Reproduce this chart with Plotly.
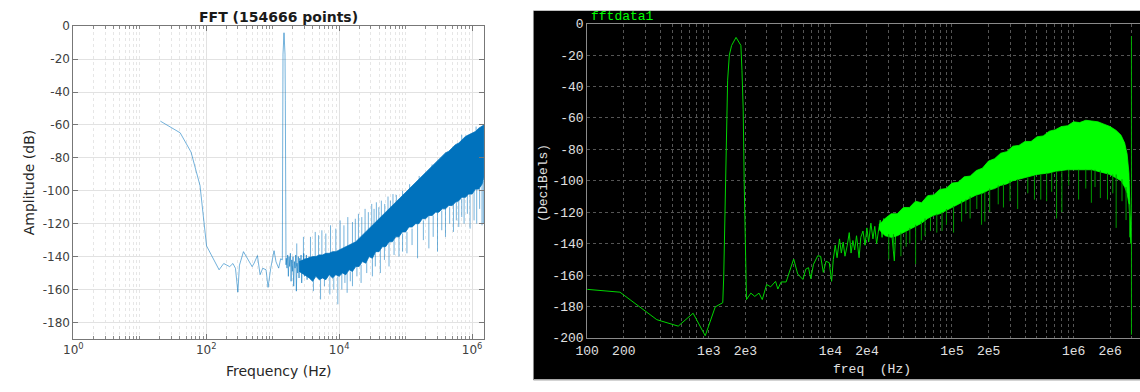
import plotly.graph_objects as go

# ---------------- LEFT PANEL DATA (MATLAB style) ----------------
left_low_hz = [20.4, 40.5, 59, 80.5, 101, 127, 156, 183, 225, 252, 275, 299, 316, 363, 422, 490, 525, 589,
               646, 708, 794, 851, 933, 1047, 1122, 1230, 1318, 1396, 1406, 1419, 1429, 1479, 1531, 1549, 1567, 1585]
left_low_db = [-57.7, -64.8, -76.5, -96.8, -133.5, -141.3, -148, -144.2, -146.1, -144.2, -147.1, -161.6, -145.2,
               -137, -141.3, -146.1, -144, -139.4, -151, -147.1, -148, -158.7, -147.1, -136.4, -143.2, -147, -141.3,
               -142, -100, -45, -17, -4, -17, -45, -100, -145]

left_noise_hz = [1600, 1640, 1680, 1720, 1760, 1800, 1845, 1890, 1930, 1980, 2020, 2070, 2120, 2170, 2220, 2270,
                 2320, 2380, 2430, 2490, 2550, 2610, 2670, 2730, 2800, 2860, 2930, 3000, 3070, 3140, 3210, 3290,
                 3370, 3450, 3530, 3600]
left_noise_db = [-141, -147, -139, -152, -140, -146, -138, -155, -142, -149, -140, -158, -143, -147, -139, -161,
                 -144, -150, -140, -153, -141, -148, -139, -156, -142, -150, -138, -152, -141, -147, -139, -154,
                 -141, -149, -140, -146]

left_band_hz = [2500, 3000, 3548, 3981, 4467, 5012, 5623, 6310, 7079, 7943, 8913, 10000, 11220, 12589, 14125,
                15849, 17783, 19953, 22387, 25119, 28184, 31623, 35481, 39811, 44668, 50119, 56234, 63096, 70795,
                79433, 89125, 100000, 112202, 125893, 141254, 158489, 177828, 199526, 223872, 251189, 281838,
                316228, 354813, 398107, 446684, 501187, 562341, 630957, 707946, 794328, 891251, 1000000, 1122018,
                1258925, 1412538, 1510000]
left_band_top_db = [-143, -142, -141, -140, -140, -139, -139, -138, -138, -137, -137, -136, -135, -134, -133, -132,
                    -131, -129, -127, -125, -123, -121, -119, -117, -115, -113, -111, -109, -107, -105, -103, -101,
                    -99, -97, -95, -93, -91, -89, -87, -85, -83, -81, -79, -77, -76, -74, -72, -71, -69, -67, -66,
                    -65, -64, -62, -61, -60]
left_band_bot_db = [-149, -151, -153, -155, -152, -154, -153, -154, -151, -153, -151, -152, -150, -151, -148, -149,
                    -146, -146, -143, -144, -140, -141, -137, -137, -134, -134, -131, -131, -128, -128, -125, -125,
                    -122, -122, -120, -120, -117, -117, -115, -115, -113, -113, -111, -111, -109, -109, -107, -106,
                    -104, -104, -102, -102, -99, -99, -96, -92]

left_up_spike_hz = [2300, 2900, 3700, 4365, 4900, 5495, 6300, 7413, 8913, 10351, 11800, 13490, 15849, 17500,
                    19498, 21900, 24547, 27500, 30903, 33500, 36308, 39500, 43152, 48500, 54325, 59000, 64565,
                    72444, 90000, 115000, 160000, 250000, 420000, 700000, 1150000]
left_up_spike_lo = [-146, -145, -141, -140, -140, -140, -139, -138, -138, -136, -135, -134, -132, -131, -130,
                    -128, -126, -124, -122, -121, -120, -119, -117, -115, -113, -111, -110, -108, -104, -99, -95,
                    -87, -80, -70, -64]
left_up_spike_hi = [-132, -128, -128, -125, -127, -124, -126, -121, -123, -118, -121, -116, -119, -117, -114,
                    -116, -111, -113, -108, -111, -107, -110, -106, -108, -103.5, -106, -102, -102.5, -100, -96,
                    -91, -84, -77, -66, -61]

left_dn_spike_hz = [4100, 5248, 6000, 7244, 8300, 9550, 10965, 12200, 13183, 14700, 15849, 18500, 21380, 26000,
                    31623, 35000, 41687, 48000, 56234, 67000, 79433, 90000, 104713, 125000, 151356, 185000,
                    223872, 260000, 301995, 350000, 398107, 460000, 524807, 580000, 630957, 700000, 758578,
                    850000, 933254, 1071519, 1174898, 1300000, 1412538, 1479108]
left_dn_spike_hi = [-152, -152, -152, -152, -152, -152, -150, -150, -150, -149, -148, -146, -145, -142, -140, -138,
                    -136, -133, -130, -129, -127, -126, -125, -123, -120, -118, -114, -115, -113, -112, -110, -110,
                    -108, -107, -106, -105, -104, -103, -102, -100, -99, -98, -95, -94]
left_dn_spike_lo = [-161, -166, -158, -163, -160, -169, -160, -156, -162, -155, -158, -152, -156, -150, -152, -146,
                    -150, -142, -146, -139, -140, -137, -138, -133, -141, -130, -135, -128, -137, -124, -128, -120,
                    -125, -118, -122, -116, -120, -114, -123, -118, -120, -111, -121, -120]

left_tick_vals = [1, 100, 10000, 1000000]
left_tick_text = ["10<sup>0</sup>", "10<sup>2</sup>", "10<sup>4</sup>", "10<sup>6</sup>"]
left_y_ticks = [0, -20, -40, -60, -80, -100, -120, -140, -160, -180]

# ---------------- RIGHT PANEL DATA (green on black) ----------------
right_line_hz = [100, 186, 374, 561, 743, 935, 1130, 1303, 1327, 1387, 1413, 1429, 1476, 1541, 1675, 1837, 1875,
                 1919, 1954, 1986, 2018, 2042, 2218, 2388, 2588, 2754, 2992, 3228, 3540, 3698, 3936, 4325, 4989,
                 5383, 5943, 6281, 6607, 6902, 7261, 7870, 8318, 8750, 9204, 9795, 10233, 10568, 10965, 11350,
                 11885, 12303, 12735, 13183, 13772, 14289, 14791, 15311, 15849, 16406, 17219, 17783, 18535, 19275,
                 19953, 20654, 21528, 22387, 23174, 23988, 24946, 25704, 26607, 27542, 28510, 29512, 30061, 30903,
                 31623, 33574, 34674]
right_line_db = [-169.1, -170.9, -188.4, -192.5, -184.3, -198.6, -180.3, -177.6, -161.3, -91.2, -54.5, -36, -20,
                 -13.9, -8.8, -13.9, -30, -54.5, -100, -129.8, -154, -175.6, -171.5, -173.6, -171.5, -175.6, -166,
                 -167.5, -164, -168.9, -164.4, -164.4, -149.8, -159.3, -162.8, -156.2, -155.3, -162.3, -153.2,
                 -147.7, -148.1, -158.3, -151.2, -152.2, -164, -150.1, -141, -149, -137, -146, -139, -148, -141,
                 -133, -146, -138, -144, -135, -149, -136, -132, -141, -130, -139, -127, -137, -129, -140, -131,
                 -125, -136, -124, -134, -123, -128, -122, -130, -151, -127]

right_band_hz = [25119, 28184, 31623, 35481, 39811, 44668, 50119, 56234, 63096, 70795, 79433, 89125, 100000,
                 112202, 125893, 141254, 158489, 177828, 199526, 223872, 251189, 281838, 316228, 354813, 398107,
                 446684, 501187, 562341, 630957, 707946, 794328, 891251, 1000000, 1122018, 1258925, 1412538,
                 1584893, 1778279, 1995262, 2238721, 2454709, 2630268, 2754229, 2851018, 2917427, 2964831]
right_band_top_db = [-128, -124, -121, -121, -117, -117, -113, -114, -109.5, -109, -105.5, -105, -101.5, -101,
                     -97.5, -97, -93.5, -92, -87.5, -86, -82.5, -81.5, -78, -77.5, -75, -75, -72, -71.5, -68.5,
                     -67.5, -65.5, -65, -62.5, -63, -61.5, -62, -62.5, -64, -65.5, -68, -71, -76, -83, -95, -115,
                     -134]
right_band_bot_db = [-131, -135, -136, -135, -133, -131, -129, -127, -124, -122, -121, -119, -117, -115, -113,
                     -111, -109, -108, -106, -105, -103, -102, -100, -99, -98, -97, -96, -95.5, -95, -94, -93.5,
                     -93, -93, -93, -93, -93, -94, -95, -96, -98, -100, -104, -108, -115, -128, -140]

right_dn_spike_hz = [30200, 33000, 38019, 41976, 45000, 50234, 56000, 60000, 66527, 75000, 82794, 90000, 103039,
                     120000, 130000, 140929, 160000, 175000, 186209, 204174, 240000, 265000, 300000, 346737,
                     420000, 476431, 537032, 600000, 660000, 724436, 800000, 912011, 1100000, 1258925, 1400000,
                     1500000, 1659587, 1900000, 2100000, 2238721, 2500000, 2700000, 2884032]
right_dn_spike_hi = [-134, -134, -133, -132, -130, -128, -126, -124, -123, -121, -120, -118, -116, -113, -112,
                     -110, -109, -108, -107, -105, -103, -102, -100, -99, -98, -97, -96, -95, -95, -94, -94, -93,
                     -93, -93, -93, -93, -93.5, -95, -96, -96, -99, -104, -115]
right_dn_spike_lo = [-150, -145, -148, -142, -140, -153, -138, -135, -132, -133, -132, -128, -133, -126, -121,
                     -124, -118, -128, -126, -120, -115, -117, -113, -118, -108, -112, -112, -113, -107, -124,
                     -120, -103, -112, -105, -114, -104, -111, -112, -108, -130, -113, -125, -136]

right_edge_hz = [2990000, 2990000]
right_edge_db = [-8, -198]

right_tick_vals = [100, 200, 1000, 2000, 10000, 20000, 100000, 200000, 1000000, 2000000]
right_tick_text = ["100", "200", "1e3", "2e3", "1e4", "2e4", "1e5", "2e5", "1e6", "2e6"]
right_y_ticks = [0, -20, -40, -60, -80, -100, -120, -140, -160, -180, -200]

# ---------------- helpers ----------------
def segments(xs, lo, hi):
    X, Y = [], []
    for x, a, b in zip(xs, lo, hi):
        X += [x, x, None]
        Y += [a, b, None]
    return X, Y

MBLUE = "#0072BD"
LIGHTBLUE = "rgba(0,114,189,0.55)"

fig = go.Figure()

# left traces
fig.add_trace(go.Scatter(x=left_low_hz + left_noise_hz, y=left_low_db + left_noise_db, mode="lines",
                         line=dict(color=LIGHTBLUE, width=1), xaxis="x", yaxis="y", showlegend=False))
sx, sy = segments(left_dn_spike_hz, left_dn_spike_hi, left_dn_spike_lo)
fig.add_trace(go.Scatter(x=sx, y=sy, mode="lines", line=dict(color=LIGHTBLUE, width=1),
                         xaxis="x", yaxis="y", showlegend=False))
fig.add_trace(go.Scatter(x=left_band_hz + left_band_hz[::-1], y=left_band_top_db + left_band_bot_db[::-1],
                         mode="lines", fill="toself", fillcolor=MBLUE, line=dict(color=MBLUE, width=0.8),
                         xaxis="x", yaxis="y", showlegend=False))
sx, sy = segments(left_up_spike_hz, left_up_spike_lo, left_up_spike_hi)
fig.add_trace(go.Scatter(x=sx, y=sy, mode="lines", line=dict(color=LIGHTBLUE, width=1),
                         xaxis="x", yaxis="y", showlegend=False))

# right traces
fig.add_trace(go.Scatter(x=right_line_hz, y=right_line_db, mode="lines",
                         line=dict(color="#00d400", width=1), xaxis="x2", yaxis="y2", showlegend=False))
fig.add_trace(go.Scatter(x=right_band_hz + right_band_hz[::-1], y=right_band_top_db + right_band_bot_db[::-1],
                         mode="lines", fill="toself", fillcolor="#00ff00", line=dict(color="#00ff00", width=0.8),
                         xaxis="x2", yaxis="y2", showlegend=False))
sx, sy = segments(right_dn_spike_hz, right_dn_spike_hi, right_dn_spike_lo)
fig.add_trace(go.Scatter(x=sx, y=sy, mode="lines", line=dict(color="#009a00", width=1),
                         xaxis="x2", yaxis="y2", showlegend=False))
fig.add_trace(go.Scatter(x=right_edge_hz, y=right_edge_db, mode="lines", line=dict(color="#00b000", width=1),
                         xaxis="x2", yaxis="y2", showlegend=False))

# minor grid positions (style)
left_minor = [m * 10 ** d for d in range(0, 7) for m in range(2, 10) if m * 10 ** d <= 1.5e6] + [10, 1000, 100000]
right_minor = [m * 10 ** d for d in range(2, 7) for m in range(3, 10) if m * 10 ** d <= 3.5e6]

fig.update_layout(
    width=1140, height=392, autosize=False,
    margin=dict(l=0, r=0, t=0, b=0, pad=0),
    paper_bgcolor="white", plot_bgcolor="rgba(0,0,0,0)",
    xaxis=dict(type="log", domain=[0.0544, 0.4184], range=[0, 6.179], anchor="y",
               tickmode="array", tickvals=left_tick_vals, ticktext=left_tick_text,
               showgrid=True, gridcolor="#e2e2e2", gridwidth=1, zeroline=False,
               ticks="inside", ticklen=5, tickcolor="#777", showline=True, linecolor="#777", linewidth=1,
               mirror="ticks", tickfont=dict(family="DejaVu Sans", size=12, color="#404040"),
               minor=dict(tickmode="array", tickvals=left_minor, showgrid=True, gridcolor="#e6e6e6",
                          griddash="dot", ticks="inside", ticklen=3, tickcolor="#888")),
    yaxis=dict(domain=[0.1173, 0.949], range=[-190, 0], anchor="x",
               tickmode="array", tickvals=left_y_ticks, ticktext=[str(v) for v in left_y_ticks],
               showgrid=True, gridcolor="#e2e2e2", zeroline=False,
               ticks="inside", ticklen=5, tickcolor="#777", showline=True, linecolor="#777", linewidth=1,
               mirror="ticks", tickfont=dict(family="DejaVu Sans", size=12, color="#404040")),
    xaxis2=dict(type="log", domain=[0.5099, 1.0], range=[2, 6.546], anchor="y2",
                tickmode="array", tickvals=right_tick_vals, ticktext=right_tick_text,
                showgrid=True, gridcolor="#555", griddash="dot", zeroline=False, ticks="",
                showline=True, linecolor="#8a8a8a", linewidth=1, mirror=True,
                tickfont=dict(family="Liberation Mono", size=13, color="#e0e0e0"),
                minor=dict(tickmode="array", tickvals=right_minor, showgrid=True, gridcolor="#555",
                           griddash="dot", ticks="")),
    yaxis2=dict(domain=[0.1199, 0.9559], range=[-200, 0], anchor="x2",
                tickmode="array", tickvals=right_y_ticks, ticktext=[str(v) for v in right_y_ticks],
                showgrid=True, gridcolor="#555", griddash="dot", zeroline=False, ticks="",
                showline=True, linecolor="#8a8a8a", linewidth=1,
                tickfont=dict(family="Liberation Mono", size=13, color="#e0e0e0")),
    shapes=[
        dict(type="rect", xref="paper", yref="paper", x0=0.4623, x1=1.02, y0=0.0089, y1=0.9898,
             fillcolor="#000000", line=dict(width=0), layer="below"),
        dict(type="line", xref="paper", yref="paper", x0=0.4623, x1=1.0, y0=0.0089, y1=0.0089,
             line=dict(color="#a8a8a8", width=1.5), layer="below"),
        dict(type="line", xref="paper", yref="paper", x0=0.4623, x1=0.4623, y0=0.0089, y1=0.9898,
             line=dict(color="#8a8a8a", width=1), layer="below"),
    ],
    annotations=[
        dict(text="<b>FFT (154666 points)</b>", x=0.2364, y=0.9745, xref="paper", yref="paper",
             showarrow=False, xanchor="center", yanchor="middle",
             font=dict(family="DejaVu Sans", size=14, color="#1a1a1a")),
        dict(text="Amplitude (dB)", x=0.0149, y=0.5332, xref="paper", yref="paper", textangle=-90,
             showarrow=False, xanchor="center", yanchor="middle",
             font=dict(family="DejaVu Sans", size=14, color="#262626")),
        dict(text="Frequency (Hz)", x=0.2366, y=0.0306, xref="paper", yref="paper",
             showarrow=False, xanchor="center", yanchor="middle",
             font=dict(family="DejaVu Sans", size=14, color="#262626")),
        dict(text="fftdata1", x=0.5111, y=0.9745, xref="paper", yref="paper",
             showarrow=False, xanchor="left", yanchor="middle",
             font=dict(family="Liberation Mono", size=13, color="#00ff00")),
        dict(text="(DeciBels)", x=0.4711, y=0.5332, xref="paper", yref="paper", textangle=-90,
             showarrow=False, xanchor="center", yanchor="middle",
             font=dict(family="Liberation Mono", size=13, color="#e0e0e0")),
        dict(text="freq\u00a0\u00a0(Hz)", x=0.7627, y=0.0357, xref="paper", yref="paper",
             showarrow=False, xanchor="center", yanchor="middle",
             font=dict(family="Liberation Mono", size=13, color="#e0e0e0")),
    ],
)

fig.write_html(
    "out.html",
    config={"displayModeBar": False, "responsive": False},
    post_script=("document.documentElement.style.margin='0';document.body.style.margin='0';"
                 "document.body.style.padding='0';document.body.style.overflow='hidden';"),
)
